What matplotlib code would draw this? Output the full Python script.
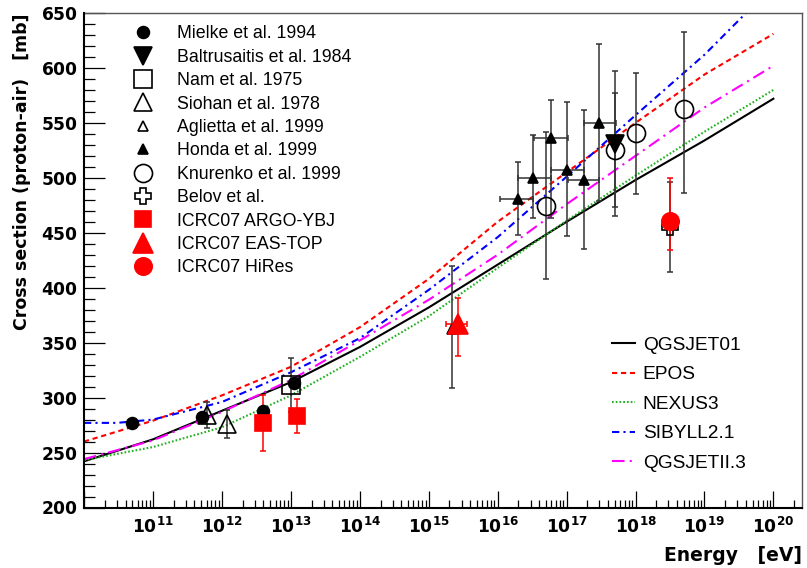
"""
Proton-air cross section vs energy: model curves and measurements
"""
import numpy as np
import matplotlib
matplotlib.use('Agg')
from matplotlib import pyplot as plt
from matplotlib.lines import Line2D
from matplotlib.ticker import LogLocator, MultipleLocator, FuncFormatter

# model predictions, read once per decade
energy = [1e10, 1e11, 1e12, 1e13, 1e14, 1e15, 1e16, 1e17, 1e18, 1e19, 1e20]
qgsjet01 = [242, 262, 288, 314, 346, 382, 421, 460, 498, 534, 572]
epos = [260, 279, 302, 328, 364, 408, 460, 505, 550, 594, 631]
nexus3 = [243, 255, 273, 302, 337, 374, 418, 461, 502, 542, 580]
sibyll_energy = [1e10, 3e10, 1e11, 1e12, 1e13, 1e14, 1e15, 1e16, 1e17,
                 1e18, 1e19, 1e20]
sibyll21 = [277, 277, 280, 296, 323, 354, 398, 446, 501, 557, 612, 675]
qgsjet2 = [244, 261, 287, 316, 352, 389, 430, 476, 520, 564, 602]

# measurements
mielke_e = [5e10, 5.1e11, 3.9e12, 1.1e13]
mielke_s = [276.5, 282.5, 288, 313.5]

baltrusaitis_e = [5e17]
baltrusaitis_s = [531]
baltrusaitis_err = [66]

nam_e = [1e13]
nam_s = [311.5]
nam_err = [25]

siohan_e = [6e11, 1.2e12]
siohan_s = [284, 276]
siohan_err = [12, 13]

aglietta_e = [2.2e15]
aglietta_s = [362]
aglietta_lo = [53]
aglietta_hi = [58]

honda_e = [1.95e16, 3.3e16, 5.9e16, 1.0e17, 1.8e17, 3.0e17]
honda_emin = [1.1e16, 1.95e16, 3.4e16, 5.9e16, 1.05e17, 1.8e17]
honda_emax = [3.3e16, 5.9e16, 1.05e17, 1.8e17, 3.0e17, 5.2e17]
honda_s = [480.5, 499.5, 536.5, 507, 498, 550]
honda_lo = [32.5, 36.5, 73.5, 60, 63, 71]
honda_hi = [33.5, 39.5, 34.5, 62, 64, 72]

knurenko_e = [5e16, 5e17, 1e18, 5e18]
knurenko_s = [474.5, 525.5, 540.5, 562.5]
knurenko_lo = [67, 52, 55, 76]
knurenko_hi = [67, 52, 55, 70]

belov_e = [3.2e18]
belov_s = [455.5]
belov_err = [41]

argo_e = [3.9e12, 1.25e13]
argo_s = [277, 283]
argo_lo = [25.5, 15]
argo_hi = [25.5, 15.5]

eastop_e = [2.7e15]
eastop_emin = [1.8e15]
eastop_emax = [3.65e15]
eastop_s = [367]
eastop_lo = [29]
eastop_hi = [24]

hires_e = [3.2e18]
hires_s = [460.5]
hires_lo = [26]
hires_hi = [39]

plt.rcParams['font.family'] = 'DejaVu Sans'
plt.rcParams['mathtext.fontset'] = 'dejavusans'

GREY = '#333333'


def draw(ax, x, y, lo, hi, marker, ms, color='black', filled=True,
         xlo=None, xhi=None, ecolor=GREY):
    if lo is not None:
        xerr = None
        if xlo is not None:
            xerr = [np.subtract(x, xlo), np.subtract(xhi, x)]
        ax.errorbar(x, y, yerr=[lo, hi], xerr=xerr, fmt='none',
                    ecolor=ecolor, elinewidth=1.1, capsize=2, capthick=1.1,
                    zorder=3)
    style = dict(linestyle='none', marker=marker, markersize=ms,
                 markeredgecolor=color, markeredgewidth=1.2,
                 markerfacecolor=color if filled else 'none')
    ax.plot(x, y, zorder=4, **style)
    return Line2D([], [], **style)


fig = plt.figure(figsize=(8.07, 5.68), dpi=100)
ax = fig.add_axes([84 / 807, 60.5 / 568, 718 / 807, 494.5 / 568])

models = [
    (energy, qgsjet01, 'black', '-', 'QGSJET01'),
    (energy, epos, 'red', (0, (2.5, 1.8)), 'EPOS'),
    (energy, nexus3, '#1fb01f', (0, (0.8, 1.0)), 'NEXUS3'),
    (sibyll_energy, sibyll21, 'blue', (0, (3.5, 2.0, 1.0, 2.0)), 'SIBYLL2.1'),
    (energy, qgsjet2, 'magenta', (0, (6.0, 2.5, 1.0, 2.5)), 'QGSJETII.3'),
]
model_handles = []
for x, y, c, ls, name in models:
    line, = ax.plot(x, y, color=c, linestyle=ls, lw=1.5, label=name,
                    zorder=2)
    model_handles.append(line)

h = []
h.append(draw(ax, mielke_e, mielke_s, None, None, 'o', 8.5))
h.append(draw(ax, baltrusaitis_e, baltrusaitis_s, baltrusaitis_err,
              baltrusaitis_err, 'v', 13))
h.append(draw(ax, nam_e, nam_s, nam_err, nam_err, 's', 13, filled=False))
h.append(draw(ax, siohan_e, siohan_s, siohan_err, siohan_err, '^', 13,
              filled=False))
h.append(draw(ax, aglietta_e, aglietta_s, aglietta_lo, aglietta_hi, '^', 7.5,
              filled=False))
h.append(draw(ax, honda_e, honda_s, honda_lo, honda_hi, '^', 7,
              xlo=honda_emin, xhi=honda_emax))
h.append(draw(ax, knurenko_e, knurenko_s, knurenko_lo, knurenko_hi, 'o', 13,
              filled=False))
h.append(draw(ax, belov_e, belov_s, belov_err, belov_err, 'P', 12,
              filled=False))
h.append(draw(ax, argo_e, argo_s, argo_lo, argo_hi, 's', 11, color='red',
              ecolor='red'))
h.append(draw(ax, eastop_e, eastop_s, eastop_lo, eastop_hi, '^', 14,
              color='red', ecolor='red', xlo=eastop_emin, xhi=eastop_emax))
h.append(draw(ax, hires_e, hires_s, hires_lo, hires_hi, 'o', 12.5,
              color='red', ecolor='red'))
labels = ['Mielke et al. 1994', 'Baltrusaitis et al. 1984', 'Nam et al. 1975',
          'Siohan et al. 1978', 'Aglietta et al. 1999', 'Honda et al. 1999',
          'Knurenko et al. 1999', 'Belov et al.', 'ICRC07 ARGO-YBJ',
          'ICRC07 EAS-TOP', 'ICRC07 HiRes']

ax.set_xscale('log')
ax.set_xlim(1e10, 2.6e20)
ax.set_ylim(200, 650)

ax.xaxis.set_major_locator(LogLocator(base=10, numticks=20))
ax.xaxis.set_minor_locator(LogLocator(base=10, subs=np.arange(2, 10),
                                      numticks=200))


def energy_label(v, pos):
    e = int(round(np.log10(v)))
    if e < 11 or e > 20:
        return ''
    return r'$\mathbf{10^{%d}}$' % e


ax.xaxis.set_major_formatter(FuncFormatter(energy_label))
ax.xaxis.set_minor_formatter(FuncFormatter(lambda v, p: ''))
ax.yaxis.set_major_locator(MultipleLocator(50))
ax.yaxis.set_minor_locator(MultipleLocator(10))
ax.yaxis.set_major_formatter(FuncFormatter(
    lambda v, p: r'$\mathbf{%d}$' % int(round(v))))

ax.tick_params(axis='both', which='both', direction='in', top=False,
               right=False, width=0.9, color='black')
ax.tick_params(axis='y', which='major', length=15, pad=4.3, labelsize=12.3)
ax.tick_params(axis='y', which='minor', length=8)
ax.tick_params(axis='x', which='major', length=12, pad=7, labelsize=12.3)
ax.tick_params(axis='x', which='minor', length=6)

for side in ['left', 'bottom']:
    ax.spines[side].set_linewidth(1.5)
    ax.spines[side].set_zorder(5)
for side in ['top', 'right']:
    ax.spines[side].set_linewidth(1.0)
    ax.spines[side].set_color('#555555')

ax.set_xlabel('Energy   [eV]', fontsize=13.5, fontweight='bold', loc='right')
ax.xaxis.set_label_coords(1.0, -0.078)
ax.set_ylabel('Cross section (proton-air)   [mb]', fontsize=12.5,
              fontweight='bold', loc='top')
ax.yaxis.set_label_coords(-0.0738, 1.0)

leg1 = ax.legend(h, labels, loc='upper left',
                 bbox_to_anchor=((129.7 - 84) / 718, 0.975),
                 frameon=False, borderpad=0, borderaxespad=0,
                 handlelength=1.5, handletextpad=1.16, labelspacing=0.36,
                 prop={'family': 'Liberation Sans', 'size': 12.8})
ax.add_artist(leg1)
ax.legend(model_handles, [m[4] for m in models], loc='upper left',
          bbox_to_anchor=(0.735, 0.346), frameon=False, borderpad=0,
          borderaxespad=0, handlelength=1.22, handletextpad=0.4,
          labelspacing=0.63,
          prop={'family': 'Liberation Sans', 'size': 13.8})

fig.savefig('out.png', dpi=100)
